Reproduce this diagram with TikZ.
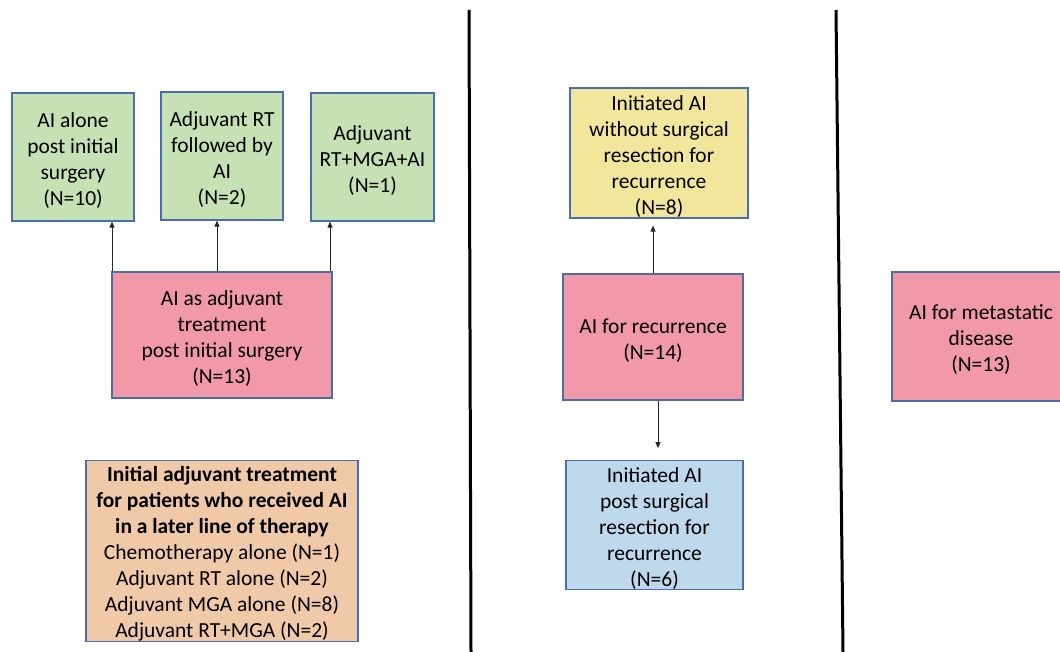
\documentclass[tikz,border=0pt]{standalone}
\usepackage{fontspec}
\setmainfont{Carlito}
\usetikzlibrary{arrows.meta}
\definecolor{gfill}{HTML}{C6E2B5}
\definecolor{pfill}{HTML}{F198A9}
\definecolor{yfill}{HTML}{F1E69C}
\definecolor{bfill}{HTML}{BED8EC}
\definecolor{ofill}{HTML}{F0CAA8}
\definecolor{bord}{HTML}{4A6DB0}
\newcommand{\tp}{\rule{0pt}{21.5pt}}
\tikzset{
  box/.style={draw=bord, line width=1.2pt, align=center, inner sep=0pt,
    font=\fontsize{21.5}{26}\selectfont},
  arr/.style={draw=black!85, line width=0.9pt, -{Triangle[length=6pt,width=5pt]}},
  sep/.style={line width=3pt, black}
}
\begin{document}
\begin{tikzpicture}[x=1pt,y=-1pt]
\clip (0,0) rectangle (1060,652);
\fill[white] (0,0) rectangle (1060,652);
% left column
\node[box, fill=gfill, minimum width=122pt, minimum height=128pt] (g1) at (73,157)
  {\tp AI alone\\post initial\\surgery\\(N=10)};
\node[box, fill=gfill, minimum width=122pt, minimum height=128pt] (g2) at (222,156)
  {\tp Adjuvant RT\\followed by\\AI\\(N=2)};
\node[box, fill=gfill, minimum width=123pt, minimum height=128pt] (g3) at (372.5,157)
  {\tp Adjuvant\\RT+MGA+AI\\(N=1)};
\node[box, fill=pfill, minimum width=220pt, minimum height=126pt] (p1) at (222,335)
  {\tp AI as adjuvant\\treatment\\post initial surgery\\(N=13)};
\node[box, fill=ofill, minimum width=272pt, minimum height=180pt] (o1) at (222,551)
  {\tp\textbf{Initial adjuvant treatment}\\\textbf{for patients who received AI}\\\textbf{in a later line of therapy}\\Chemotherapy alone (N=1)\\Adjuvant RT alone (N=2)\\Adjuvant MGA alone (N=8)\\Adjuvant RT+MGA (N=2)};
% middle column
\node[box, fill=yfill, minimum width=178pt, minimum height=130pt] (y1) at (659,153)
  {\tp Initiated AI\\without surgical\\resection for\\recurrence\\(N=8)};
\node[box, fill=pfill, minimum width=180pt, minimum height=126pt] (p2) at (653,337)
  {\tp AI for recurrence\\(N=14)};
\node[box, fill=bfill, minimum width=177pt, minimum height=128pt] (b1) at (654.5,525)
  {\tp Initiated AI\\post surgical\\resection for\\recurrence\\(N=6)};
% right column
\node[box, fill=pfill, minimum width=178pt, minimum height=129pt] (p3) at (981,336.5)
  {\tp AI for metastatic\\disease\\(N=13)};
% arrows
\draw[arr] (p1.north -| 112,0) -- (g1.south -| 112,0);
\draw[arr] (p1.north -| 217,0) -- (g2.south -| 217,0);
\draw[arr] (p1.north -| 330,0) -- (g3.south -| 330,0);
\draw[arr, shorten >=7pt] (p2.north -| 653,0) -- (y1.south -| 653,0);
\draw[arr, shorten >=12pt] (p2.south -| 658,0) -- (b1.north -| 658,0);
% separators
\draw[sep] (469,10) -- (471,652);
\draw[sep] (836,10) -- (843,652);
\end{tikzpicture}
\end{document}
